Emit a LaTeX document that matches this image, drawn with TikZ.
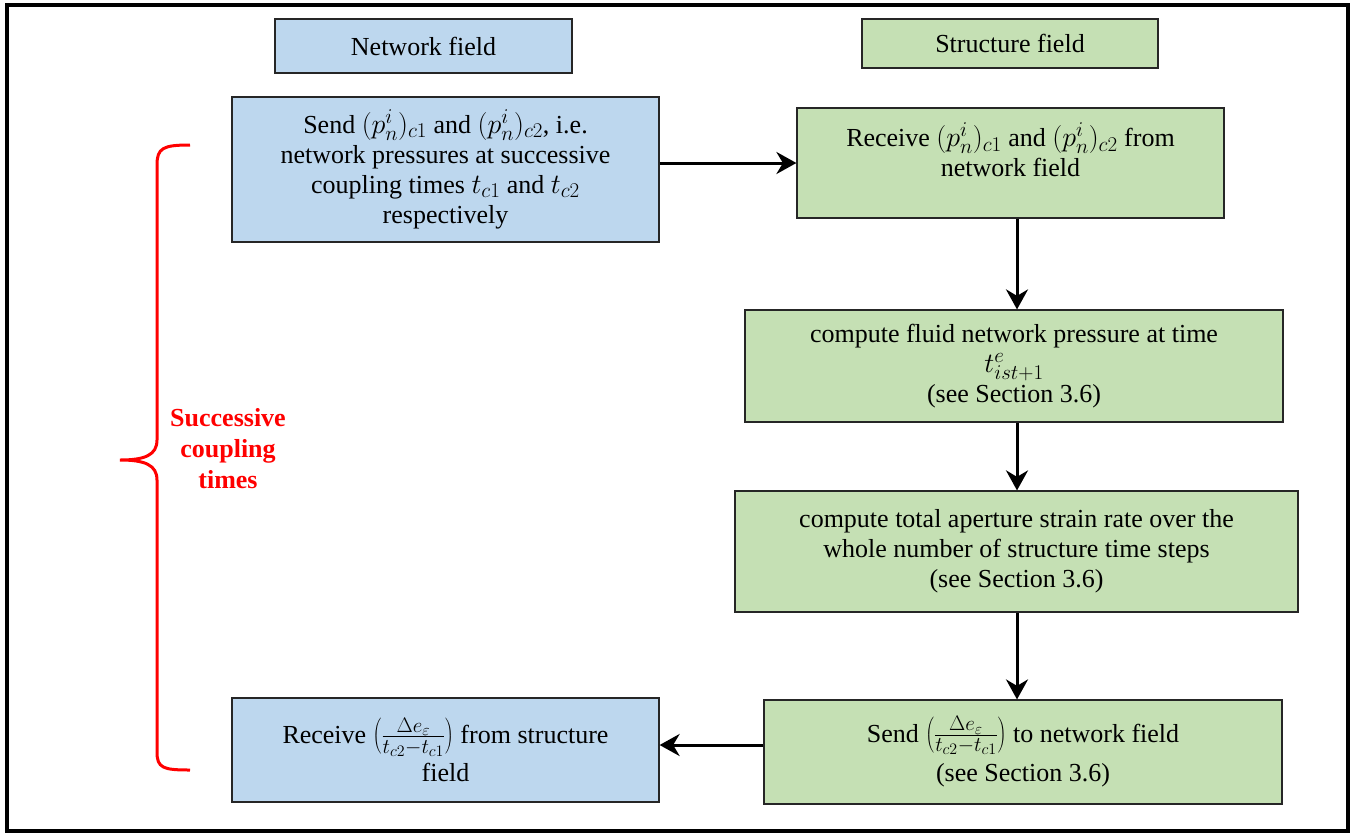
\RequirePackage{fix-cm}
\documentclass[tikz,border=0pt]{standalone}
\usepackage{fontspec}
\setmainfont{Liberation Serif}
\DeclareMathSizes{26}{28}{21}{16}
\usetikzlibrary{arrows.meta}
\definecolor{netblue}{HTML}{BDD7EE}
\definecolor{strgreen}{HTML}{C5E0B4}

\begin{document}
\begin{tikzpicture}[x=1pt, y=-1pt, >={Stealth[length=20pt, width=22pt]},
  box/.style={draw=black!85, line width=1.2pt, inner sep=0pt, align=center,
    font=\fontsize{26}{30}\selectfont},
  netbox/.style={box, fill=netblue},
  strbox/.style={box, fill=strgreen},
  flow/.style={->, line width=3pt}]
  \useasboundingbox (0,0) rectangle (1356,836);
  % frame
  \draw[line width=4pt] (7,5) rectangle (1348,831);
  % headers
  \node[netbox, minimum width=297pt, minimum height=54pt] (nethead) at (423.5,46) {Network field};
  \node[strbox, minimum width=296pt, minimum height=49pt] (strhead) at (1010,43.5) {Structure field};
  % network field
  \node[netbox, minimum width=427pt, minimum height=145pt] (send) at (445.5,169.5)
    {Send $(p_n^i)_{c1}$ and $(p_n^i)_{c2}$, i.e.\\ network pressures at successive\\
     coupling times $t_{c1}$ and $t_{c2}$\\ respectively};
  \node[netbox, minimum width=427pt, minimum height=104pt] (recvback) at (445.5,750)
    {Receive $\left(\frac{\Delta e_\varepsilon}{t_{c2}-t_{c1}}\right)$ from structure\\[6pt] field};
  % structure field
  \node[strbox, minimum width=427pt, minimum height=110pt] (recv) at (1010.5,163) {};
  \node[box, draw=none] (recvtxt) at (1010.5,150)
    {Receive $(p_n^i)_{c1}$ and $(p_n^i)_{c2}$ from\\ network field};
  \node[strbox, minimum width=538pt, minimum height=112pt] (fluid) at (1014,366)
    {compute fluid network pressure at time\\ $t^e_{ist+1}$\\ (see Section 3.6)};
  \node[strbox, minimum width=563pt, minimum height=121pt] (total) at (1016.5,551.5)
    {compute total aperture strain rate over the\\ whole number of structure time steps\\ (see Section 3.6)};
  \node[strbox, minimum width=518pt, minimum height=104pt] (sendback) at (1023,752)
    {Send $\left(\frac{\Delta e_\varepsilon}{t_{c2}-t_{c1}}\right)$ to network field\\[8pt] (see Section 3.6)};
  % connectors
  \coordinate (spine) at (1017,0);
  \draw[flow] (recv.west -| send.east) -- (recv.west);
  \draw[flow] (recv.south -| spine) -- (fluid.north -| spine);
  \draw[flow] (fluid.south -| spine) -- (total.north -| spine);
  \draw[flow] (total.south -| spine) -- (sendback.north -| spine);
  \draw[flow] (sendback.west |- 0,745) -- (recvback.east |- 0,745);
  % brace
  \draw[red, line width=3pt] (190,145) .. controls (163,145) and (157,148) .. (157,165)
    -- (157,440) .. controls (157,455) and (145,460) .. (120,460)
    .. controls (145,460) and (157,465) .. (157,480)
    -- (157,752) .. controls (157,768) and (163,770) .. (190,770);
  \node[text=red, align=center, font=\fontsize{26}{31}\selectfont\bfseries] (coupling) at (228,449)
    {Successive\\ coupling\\ times};
\end{tikzpicture}
\end{document}
